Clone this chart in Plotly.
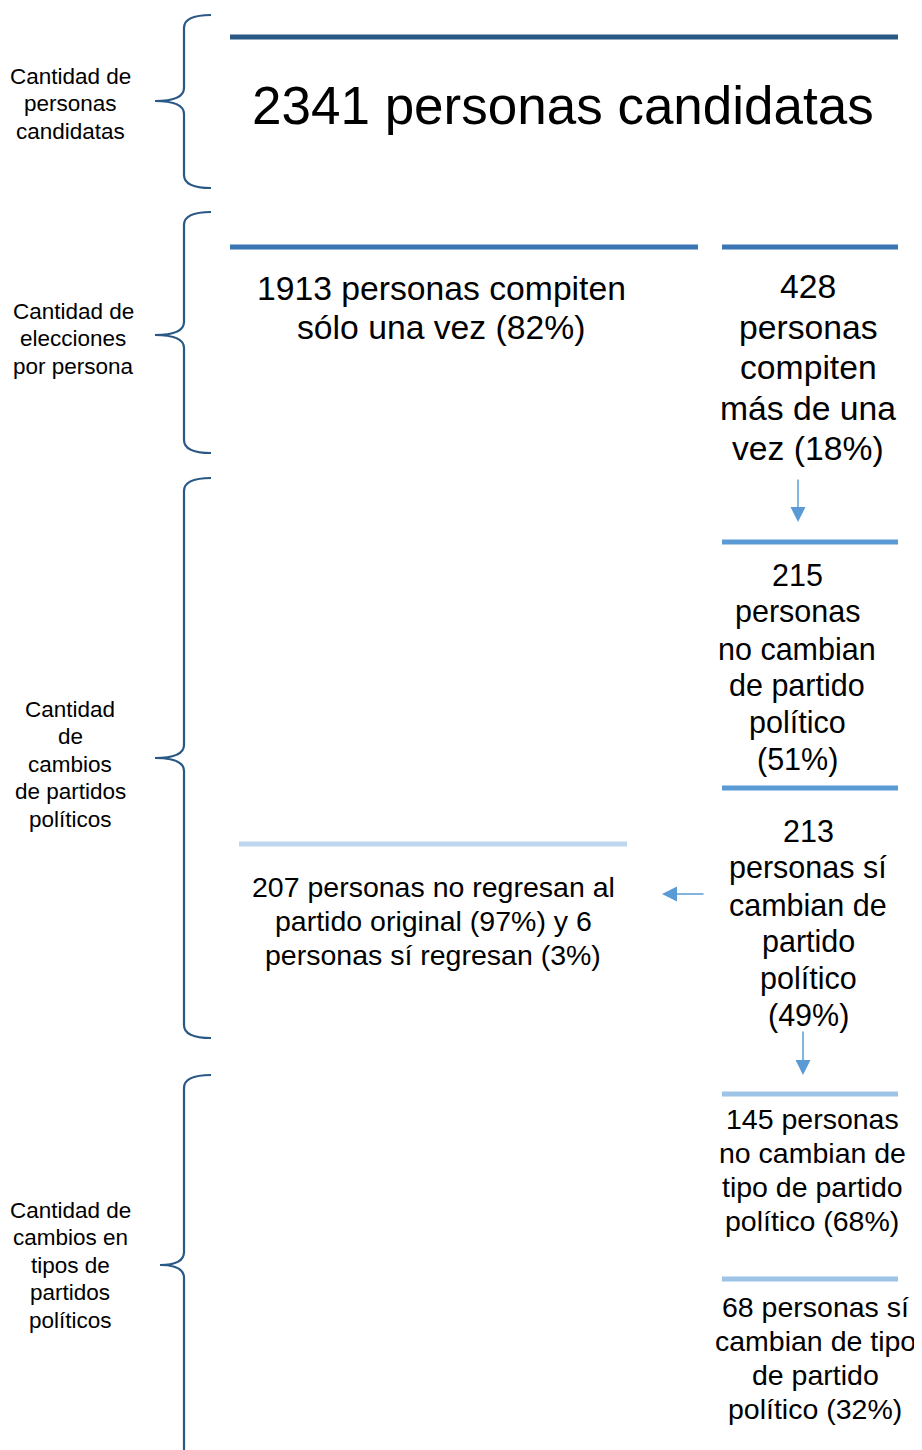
import plotly.graph_objects as go

# ── data: counts and shares ─────────────────────────────────────────────────
total_candidatas = 2341
elecciones_counts = [1913, 428]        # compiten una vez / más de una vez
elecciones_pcts = [82, 18]
partido_counts = [215, 213]            # no cambian / sí cambian de partido
partido_pcts = [51, 49]
regreso_counts = [207, 6]              # no regresan / sí regresan
regreso_pcts = [97, 3]
tipo_counts = [145, 68]                # no cambian / sí cambian de tipo
tipo_pcts = [68, 32]

section_labels = [
    ["Cantidad de", "personas", "candidatas"],
    ["Cantidad de", "elecciones", "por persona"],
    ["Cantidad", "de", "cambios", "de partidos", "políticos"],
    ["Cantidad de", "cambios en", "tipos de", "partidos", "políticos"],
]

W, H = 922, 1450
PAD = 8  # the page body keeps its default 8px margin, so the figure starts there
FONT = "Liberation Sans, Arial, sans-serif"
DARK = "#2a5885"
MID = "#3a76b5"
BLUE = "#5b9bd5"
LIGHT = "#9dc3e6"
PALE = "#bdd7ee"

fig = go.Figure()
shapes = []
annotations = []


def add_block(lines, x, y0, dy, size):
    # one annotation per line so the line spacing can follow the original
    for i, txt in enumerate(lines):
        annotations.append(dict(
            x=x, y=y0 + i * dy, xref="x", yref="y", text=txt,
            showarrow=False, xanchor="center", yanchor="middle",
            font=dict(family=FONT, size=size, color="#000000"),
        ))


def add_rule(x0, x1, y, color, width=5):
    shapes.append(dict(type="line", xref="x", yref="y", x0=x0, x1=x1, y0=y, y1=y,
                       line=dict(color=color, width=width)))


def add_brace(top, mid, bottom, xv=184, xtip=155, xend=211, r=13):
    path = (f"M {xend},{top} Q {xv},{top} {xv},{top + r} "
            f"L {xv},{mid - r} Q {xv},{mid} {xtip},{mid} "
            f"Q {xv},{mid} {xv},{mid + r} "
            f"L {xv},{bottom - r} Q {xv},{bottom} {xend},{bottom}")
    shapes.append(dict(type="path", xref="x", yref="y", path=path,
                       line=dict(color=DARK, width=2.2)))


def add_arrow(x0, y0, x1, y1):
    annotations.append(dict(
        x=x1, y=y1, ax=x0, ay=y0, xref="x", yref="y", axref="x", ayref="y",
        text="", showarrow=True, arrowhead=2, arrowsize=2, arrowwidth=1.5,
        arrowcolor=BLUE,
    ))


# braces and row labels on the left
add_brace(15, 101, 188)
add_brace(212, 335, 453)
add_brace(478, 758, 1038)
add_brace(1075, 1265, 1500, xtip=160)

add_block(section_labels[0], 70, 76, 27.5, 22.5)
add_block(section_labels[1], 73, 311, 27.5, 22.5)
add_block(section_labels[2], 70, 709, 27.5, 22.5)
add_block(section_labels[3], 70, 1210, 27.5, 22.5)

# rules
add_rule(230, 898, 37, DARK)
add_rule(230, 698, 247, MID)
add_rule(722, 898, 247, MID)
add_rule(722, 898, 542, BLUE)
add_rule(722, 898, 788, BLUE)
add_rule(239, 627, 844, PALE)
add_rule(722, 898, 1094, LIGHT)
add_rule(722, 898, 1279, LIGHT)

# text blocks
add_block([f"{total_candidatas} personas candidatas"], 563, 105, 0, 53)
add_block([f"{elecciones_counts[0]} personas compiten",
           f"sólo una vez ({elecciones_pcts[0]}%)"], 441, 288, 39, 33.7)
add_block([f"{elecciones_counts[1]}", "personas", "compiten", "más de una",
           f"vez ({elecciones_pcts[1]}%)"], 808, 286, 40.5, 33.7)
add_block([f"{partido_counts[0]}", "personas", "no cambian", "de partido",
           "político", f"({partido_pcts[0]}%)"], 797, 575, 36.8, 30.5)
add_block([f"{partido_counts[1]}", "personas sí", "cambian de", "partido",
           "político", f"({partido_pcts[1]}%)"], 808, 831, 36.8, 30.5)
add_block([f"{regreso_counts[0]} personas no regresan al",
           f"partido original ({regreso_pcts[0]}%) y {regreso_counts[1]}",
           f"personas sí regresan ({regreso_pcts[1]}%)"], 433, 887, 34, 28.5)
add_block([f"{tipo_counts[0]} personas", "no cambian de", "tipo de partido",
           f"político ({tipo_pcts[0]}%)"], 812, 1119, 34, 28.5)
add_block([f"{tipo_counts[1]} personas sí", "cambian de tipo", "de partido",
           f"político ({tipo_pcts[1]}%)"], 815, 1307, 34, 28.5)

# arrows
add_arrow(798, 478, 798, 522)
add_arrow(705, 894, 662, 894)
add_arrow(803, 1030, 803, 1075)

fig.update_layout(
    width=W - PAD, height=H - PAD,
    margin=dict(l=0, r=0, t=0, b=0),
    paper_bgcolor="white", plot_bgcolor="white",
    xaxis=dict(range=[PAD, W], visible=False, fixedrange=True),
    yaxis=dict(range=[H, PAD], visible=False, fixedrange=True),
    shapes=shapes, annotations=annotations,
    showlegend=False,
)

fig.write_html("out.html")
